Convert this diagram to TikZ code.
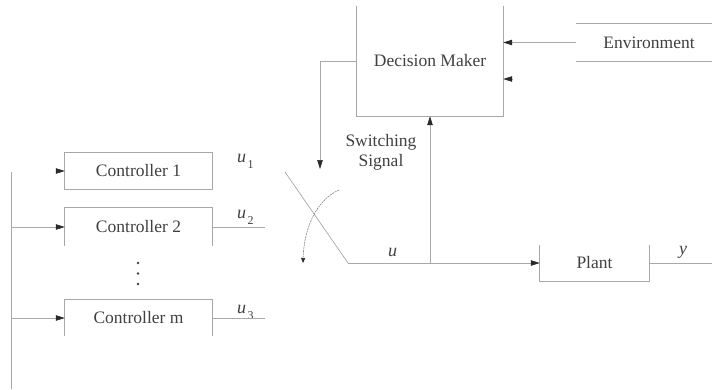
\documentclass[tikz,border=0pt]{standalone}
\usepackage{fontspec}
\setmainfont{Liberation Serif}
\usetikzlibrary{arrows.meta}
\definecolor{edge}{HTML}{A8A8A8}
\definecolor{ink}{HTML}{404040}
\definecolor{tip}{HTML}{2A2A2A}

\begin{document}
\begin{tikzpicture}[x=1pt,y=-1pt,
  blk/.style={inner sep=0pt, text=ink, font=\fontsize{17.5}{20}\selectfont},
  wire/.style={draw=edge, line width=0.7pt},
  arr/.style={wire, -{Triangle[length=9pt,width=5.5pt,fill=tip,color=tip]}},
  lbl/.style={inner sep=0pt, text=ink, font=\fontsize{18}{20}\selectfont, anchor=base west},
  dotmark/.style={circle, fill=ink, inner sep=0pt, minimum size=2.8pt}]
\useasboundingbox (0,0) rectangle (712,389);

% blocks
\node[blk, minimum width=146pt, minimum height=110pt] (dm) at (430,61) {Decision Maker};
\node[blk, minimum width=146pt, minimum height=37pt] (env) at (649,42.5) {Environment};
\node[blk, minimum width=147pt, minimum height=36pt] (c1) at (138.5,171) {Controller 1};
\node[blk, minimum width=147pt, minimum height=38pt] (c2) at (138.5,227) {Controller 2};
\node[blk, minimum width=147pt, minimum height=36pt] (cm) at (138.5,318) {Controller m};
\node[blk, minimum width=109pt, minimum height=36pt] (plant) at (594.5,263) {Plant};
\node[blk, align=center] (sws) at (381,152) {Switching\\Signal};

% dots between controllers
\node[dotmark] (d1) at (138,263) {};
\node[dotmark] (d2) at (138,273.5) {};
\node[dotmark] (d3) at (138,284) {};

% signal labels
\node[lbl] (u1) at (237,162) {\textit{u}\hspace{1.5pt}\raisebox{-6pt}{\fontsize{12}{12}\selectfont 1}};
\node[lbl] (u2) at (237,218) {\textit{u}\hspace{1.5pt}\raisebox{-6pt}{\fontsize{12}{12}\selectfont 2}};
\node[lbl] (u3) at (237,313) {\textit{u}\hspace{1.5pt}\raisebox{-6pt}{\fontsize{12}{12}\selectfont 3}};
\node[lbl] (uu) at (388,256) {\textit{u}};
\node[lbl] (yy) at (679,254) {\textit{y}};

% block outlines
\coordinate (rim) at (712,0);
\draw[wire] (dm.north west) -- (dm.south west) -- (dm.south east) -- (dm.north east);
\draw[wire] (env.north west) -- (env.north west -| rim);
\draw[wire] (env.south west) -- (env.south west -| rim);
\draw[wire] (c1.north west) rectangle (c1.south east);
\draw[wire] (c2.south west) -- (c2.north west) -- (c2.north east) -- (c2.south east);
\draw[wire] (cm.south west) -- (cm.north west) -- (cm.north east) -- (cm.south east);
\draw[wire] (plant.north west) -- (plant.south west) -- (plant.south east) -- (plant.north east);

% environment feeds the decision maker
\draw[arr] (env.west) -- (dm.east |- env.west);
\coordinate (fb) at (512,79);
\draw[arr] (fb) -- (dm.east |- fb);

% switching signal down to the switch
\coordinate (swd) at (320,169);
\draw[arr] (dm.west) -- (dm.west -| swd) -- (swd);

% switch blade and main signal path
\coordinate (sw1) at (285,172);
\coordinate (sw2) at (348,263);
\coordinate (jn) at (430,263);
\draw[wire] (sw1) -- (sw2);
\draw[arr] (sw2) -- (plant.west);
\draw[arr] (jn) -- (dm.south);

% switching motion
\coordinate (cv1) at (339,190);
\coordinate (cv2) at (303,263);
\draw[draw=black!50, line width=0.6pt, dash pattern=on 2pt off 0.8pt,
      -{Triangle[length=5pt,width=4pt,fill=tip,color=tip]}]
  (cv1) .. controls (318,199) and (304,226) .. (cv2);

% plant output
\draw[wire] (plant.east) -- (plant.east -| rim);

% input bus for the controllers
\coordinate (bt) at (11,172);
\coordinate (bb) at (11,389);
\draw[wire] (bt) -- (bb);
\draw[arr] ([xshift=-9pt]c1.west) -- (c1.west);
\draw[arr] (c2.west -| bt) -- (c2.west);
\draw[arr] (cm.west -| bt) -- (cm.west);

% controller outputs
\coordinate (ox) at (265,0);
\draw[wire] (c2.east) -- (c2.east -| ox);
\draw[wire] (cm.east) -- (cm.east -| ox);
\end{tikzpicture}
\end{document}
